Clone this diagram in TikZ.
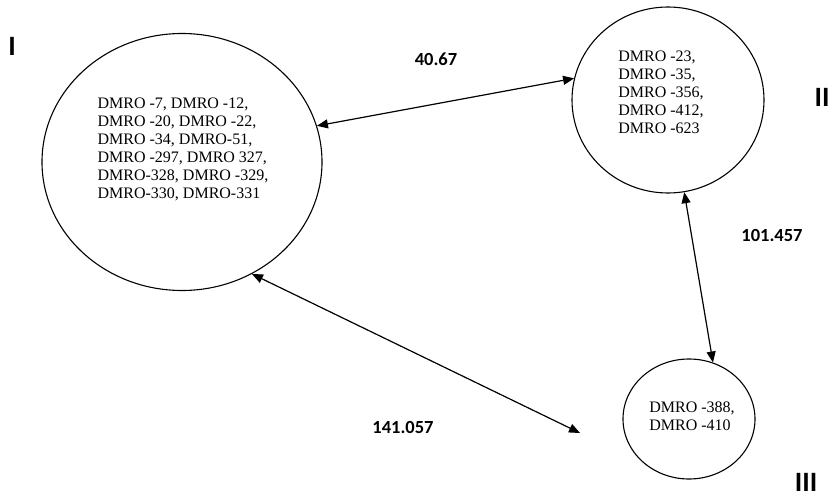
\documentclass[tikz,border=0pt]{standalone}
\usepackage{fontspec}
\setmainfont{Liberation Serif}
\setsansfont{Carlito}
\usetikzlibrary{shapes.geometric,arrows.meta}

\begin{document}
\begin{tikzpicture}[
        x=1pt, y=-1pt,
        cluster/.style={draw, ellipse, line width=1.1pt, inner sep=0pt},
        members/.style={align=left, inner sep=0pt, font=\fontsize{16}{18}\selectfont},
        groupname/.style={font=\fontsize{28}{28}\selectfont\sffamily\bfseries},
        distlabel/.style={font=\fontsize{18.5}{18.5}\selectfont\sffamily\bfseries},
        link/.style={{Triangle[length=11pt,width=9pt]}-{Triangle[length=11pt,width=9pt]}, line width=1.2pt},
    ]
    \useasboundingbox (0,0) rectangle (835,500);
    % clusters
    \node[cluster, minimum width=280pt, minimum height=257pt](I) at (182,162){};
    \node[cluster, minimum width=192pt, minimum height=186pt](II) at (668,100){};
    \node[cluster, minimum width=132pt, minimum height=120pt](III) at (689,419){};
    \node[members](Itext) at (183,149){DMRO -7, DMRO -12,\\ DMRO -20, DMRO -22,\\ DMRO -34, DMRO-51,\\ DMRO -297, DMRO 327,\\ DMRO-328, DMRO -329,\\ DMRO-330, DMRO-331};
    \node[members](IItext) at (661,92){DMRO -23,\\ DMRO -35,\\ DMRO -356,\\ DMRO -412,\\ DMRO -623};
    \node[members](IIItext) at (692,416){DMRO -388,\\ DMRO -410};
    % group names
    \node[groupname](nI) at (12,46){I};
    \node[groupname](nII) at (822,97){II};
    \node[groupname](nIII) at (806,482){III};
    % distances
    \coordinate (end13) at (580,433);
    \draw[link] (I.15) -- (II.167);
    \draw[link] (II.-80) -- (III.67);
    \draw[link] (I.-58) -- (end13);
    \node[distlabel](d12) at (436,59){40.67};
    \node[distlabel](d23) at (772,235){101.457};
    \node[distlabel](d13) at (403,427){141.057};
\end{tikzpicture}
\end{document}
